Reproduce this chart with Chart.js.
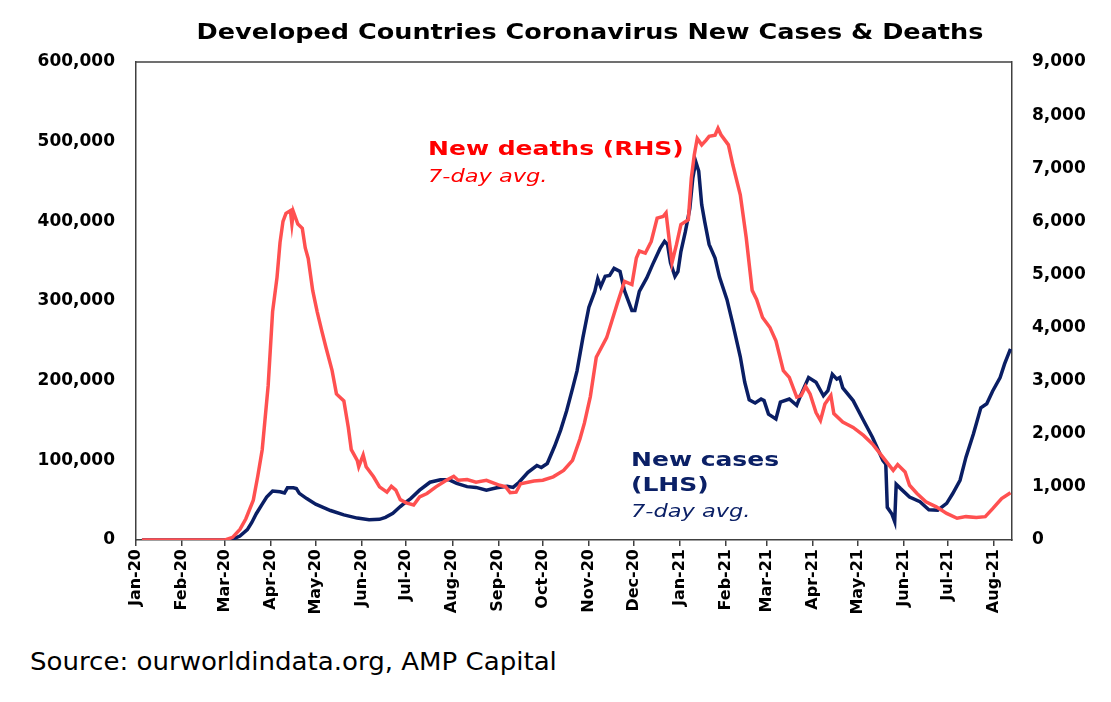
<!DOCTYPE html>
<html>
<head>
<meta charset="utf-8">
<script src="https://cdn.jsdelivr.net/npm/chart.js@4.4.1/dist/chart.umd.min.js"></script>
<style>
  body { margin: 0; background: #fff; }
  #wrap { position: relative; width: 1111px; height: 702px; overflow: hidden; }
  #box { position: absolute; left: 0; top: 0; width: 1111px; height: 640px; }
  .txt { position: absolute; white-space: nowrap; font-family: "DejaVu Sans", sans-serif; transform-origin: left top; }
  #title { left: 590px; top: 20px; font-size: 21px; font-weight: bold; color: #000; transform-origin: center top; transform: translateX(-50%) scaleX(1.215); }
  #source { left: 30px; top: 648px; font-size: 24px; color: #000; transform: scaleX(1.085); }
  .deaths { color: #ff0000; left: 428px; }
  .cases { color: #0b2066; left: 631px; }
  .big { font-size: 20px; font-weight: bold; transform: scaleX(1.25); }
  .small { font-size: 18px; font-style: italic; transform: scaleX(1.25); }
</style>
</head>
<body>
<div id="wrap">
  <div id="box"><canvas id="covidChart"></canvas></div>
  <div id="title" class="txt">Developed Countries Coronavirus New Cases &amp; Deaths</div>
  <div class="txt deaths big" style="top:136px">New deaths (RHS)</div>
  <div class="txt deaths small" style="top:165px">7-day avg.</div>
  <div class="txt cases big" style="top:447px">New cases</div>
  <div class="txt cases big" style="top:472px">(LHS)</div>
  <div class="txt cases small" style="top:500px">7-day avg.</div>
  <div id="source" class="txt">Source: ourworldindata.org, AMP Capital</div>
</div>
<script>
// x values are days since 1-Jan-2020
const monthLabels = ['Jan-20', 'Feb-20', 'Mar-20', 'Apr-20', 'May-20', 'Jun-20', 'Jul-20', 'Aug-20', 'Sep-20', 'Oct-20',
  'Nov-20', 'Dec-20', 'Jan-21', 'Feb-21', 'Mar-21', 'Apr-21', 'May-21', 'Jun-21', 'Jul-21', 'Aug-21'];

// new cases, 7-day avg (LHS)
const casesDays = [4, 40, 62, 65, 70, 75, 78, 81, 85, 88, 92, 97, 100, 102, 106, 108, 110, 115, 121, 126,
  131, 140, 149, 157, 164, 168, 173, 178, 180, 185, 191, 198, 205, 211, 216, 223, 229, 236, 243, 250,
  254, 258, 264, 270, 273, 277, 282, 286, 290, 294, 297, 301, 305, 309, 311, 313, 316, 319, 322, 326,
  329, 334, 336, 339, 344, 348, 353, 356, 358, 360, 363, 365, 367, 370, 373, 375, 377, 379, 381, 383,
  386, 390, 393, 398, 402, 407, 410, 413, 417, 421, 423, 426, 431, 434, 440, 445, 448, 453, 458, 463,
  466, 469, 472, 474, 476, 483, 490, 496, 503, 505, 506, 509, 511, 512, 515, 521, 528, 534, 540, 546,
  550, 555, 559, 564, 569, 573, 577, 582, 585, 589];
const casesValues = [0, 0, 0, 1000, 5000, 13000, 22000, 33000, 45000, 54000, 61500, 60500, 59000, 65500, 65500, 64500, 58500, 52000, 45000, 41000,
  37000, 31500, 27500, 25500, 26000, 28500, 33500, 42000, 45000, 52000, 62500, 72500, 75500, 75500, 71000, 67000, 66000, 62500, 65500, 67500,
  66000, 72500, 85000, 93500, 91000, 96000, 118000, 138000, 162000, 190000, 212000, 254000, 292000, 312000, 328000, 318000, 331000, 332000, 341000, 337000,
  313000, 288000, 288000, 312000, 329000, 346000, 366000, 375000, 371000, 348000, 331000, 337000, 362000, 387000, 416000, 454000, 475000, 463000, 421000, 400000,
  371000, 354000, 330000, 302000, 271000, 230000, 198000, 176000, 172000, 177000, 175000, 158000, 152000, 173000, 177000, 169000, 183000, 204000, 198000, 181000,
  187500, 208000, 202000, 204000, 191000, 175000, 150000, 129000, 100000, 95000, 41000, 33000, 23000, 70000, 64500, 54000, 48000, 38000, 37500, 46000,
  58000, 75000, 104000, 133000, 166000, 171000, 187000, 204000, 221000, 240000];

// new deaths, 7-day avg (RHS)
const deathsDays = [4, 60, 65, 70, 74, 79, 82, 85, 89, 92, 95, 97, 99, 101, 104, 105, 106, 109, 112, 114,
  116, 119, 122, 125, 128, 132, 135, 140, 143, 145, 149, 150, 153, 155, 160, 164, 169, 172, 175, 178,
  182, 187, 191, 196, 202, 209, 214, 217, 223, 229, 236, 245, 249, 252, 256, 259, 268, 274, 281, 288,
  294, 299, 302, 306, 310, 317, 324, 329, 334, 337, 339, 343, 347, 351, 355, 357, 360, 361, 364, 367,
  372, 374, 376, 378, 381, 384, 386, 390, 392, 394, 399, 402, 407, 411, 415, 418, 422, 427, 431, 436,
  440, 445, 448, 451, 454, 458, 461, 464, 468, 470, 476, 483, 490, 496, 503, 510, 513, 518, 521, 526,
  532, 539, 546, 553, 559, 566, 572, 577, 583, 589];
const deathsValues = [0, 0, 50, 200, 400, 750, 1200, 1700, 2900, 4300, 4950, 5600, 6000, 6150, 6200, 5950, 6180, 5950, 5870, 5500,
  5300, 4700, 4300, 3950, 3620, 3200, 2750, 2620, 2120, 1700, 1500, 1380, 1600, 1380, 1190, 1000, 900, 1010, 940, 760,
  700, 660, 810, 875, 1000, 1125, 1200, 1125, 1140, 1090, 1125, 1030, 1000, 890, 900, 1060, 1110, 1125, 1190, 1310,
  1500, 1900, 2200, 2700, 3440, 3810, 4440, 4870, 4810, 5310, 5440, 5400, 5620, 6060, 6090, 6160, 5440, 5220, 5560, 5940,
  6030, 6810, 7250, 7560, 7440, 7530, 7600, 7620, 7750, 7630, 7440, 7060, 6500, 5690, 4700, 4530, 4190, 4000, 3750, 3190,
  3060, 2690, 2720, 2890, 2750, 2400, 2250, 2560, 2720, 2380, 2220, 2120, 1970, 1810, 1560, 1310, 1420, 1280, 1030, 875,
  720, 625, 500, 410, 440, 425, 440, 590, 780, 890];

const leftTicks = [0, 100000, 200000, 300000, 400000, 500000, 600000];
const rightTicks = [0, 1000, 2000, 3000, 4000, 5000, 6000, 7000, 8000, 9000];

const monthNames = ['Jan', 'Feb', 'Mar', 'Apr', 'May', 'Jun', 'Jul', 'Aug', 'Sep', 'Oct', 'Nov', 'Dec'];
const dayZero = Date.UTC(2020, 0, 1);
const monthDays = monthLabels.map(l => {
  const m = monthNames.indexOf(l.slice(0, 3));
  const y = 2000 + Number(l.slice(4));
  return Math.round((Date.UTC(y, m, 1) - dayZero) / 86400000);
});

const tickFont = { family: 'DejaVu Sans', size: 17, weight: 'bold' };
const fmt = v => Number(v).toLocaleString('en-US');

// closes the plot box on top
const frame = {
  id: 'frame',
  afterDraw(chart) {
    const { ctx, chartArea: a } = chart;
    ctx.save();
    ctx.strokeStyle = '#404040';
    ctx.lineWidth = 1.5;
    ctx.beginPath();
    ctx.moveTo(a.left, a.top);
    ctx.lineTo(a.right, a.top);
    ctx.stroke();
    ctx.restore();
  }
};

new Chart(document.getElementById('covidChart'), {
  type: 'line',
  data: {
    datasets: [
      {
        label: 'New deaths (RHS)',
        data: deathsDays.map((d, i) => ({ x: d, y: deathsValues[i] })),
        borderColor: '#ff5050',
        borderWidth: 3.5,
        pointRadius: 0,
        yAxisID: 'y1',
        order: 0
      },
      {
        label: 'New cases (LHS)',
        data: casesDays.map((d, i) => ({ x: d, y: casesValues[i] })),
        borderColor: '#0a1e64',
        borderWidth: 3.5,
        pointRadius: 0,
        yAxisID: 'y',
        order: 1
      }
    ]
  },
  options: {
    responsive: true,
    maintainAspectRatio: false,
    animation: false,
    layout: { padding: { top: 62, left: 0, right: 0, bottom: 0 } },
    plugins: { legend: { display: false }, tooltip: { enabled: false } },
    scales: {
      x: {
        type: 'linear',
        min: 0,
        max: 590,
        afterBuildTicks: s => { s.ticks = monthDays.map(v => ({ value: v })); },
        afterFit: s => { s.height = 100; },
        ticks: {
          autoSkip: false,
          minRotation: 90,
          maxRotation: 90,
          padding: 3,
          color: '#000',
          font: { family: 'DejaVu Sans', size: 16, weight: 'bold' },
          callback: v => monthLabels[monthDays.indexOf(v)]
        },
        grid: { drawOnChartArea: false, drawTicks: true, tickLength: 6, color: '#404040', lineWidth: 1.5 },
        border: { color: '#404040', width: 1.5 }
      },
      y: {
        position: 'left',
        min: 0,
        max: 600000,
        afterBuildTicks: s => { s.ticks = leftTicks.map(v => ({ value: v })); },
        afterFit: s => { s.width = 136; },
        ticks: { padding: 21, color: '#000', font: tickFont, callback: fmt },
        grid: { display: false, drawTicks: false, tickLength: 0 },
        border: { display: true, color: '#404040', width: 1.5 }
      },
      y1: {
        position: 'right',
        min: 0,
        max: 9000,
        afterBuildTicks: s => { s.ticks = rightTicks.map(v => ({ value: v })); },
        afterFit: s => { s.width = 99; },
        ticks: { padding: 20, color: '#000', font: tickFont, callback: fmt },
        grid: { display: false, drawTicks: false, tickLength: 0 },
        border: { display: true, color: '#404040', width: 1.5 }
      }
    }
  },
  plugins: [frame]
});
</script>
</body>
</html>
